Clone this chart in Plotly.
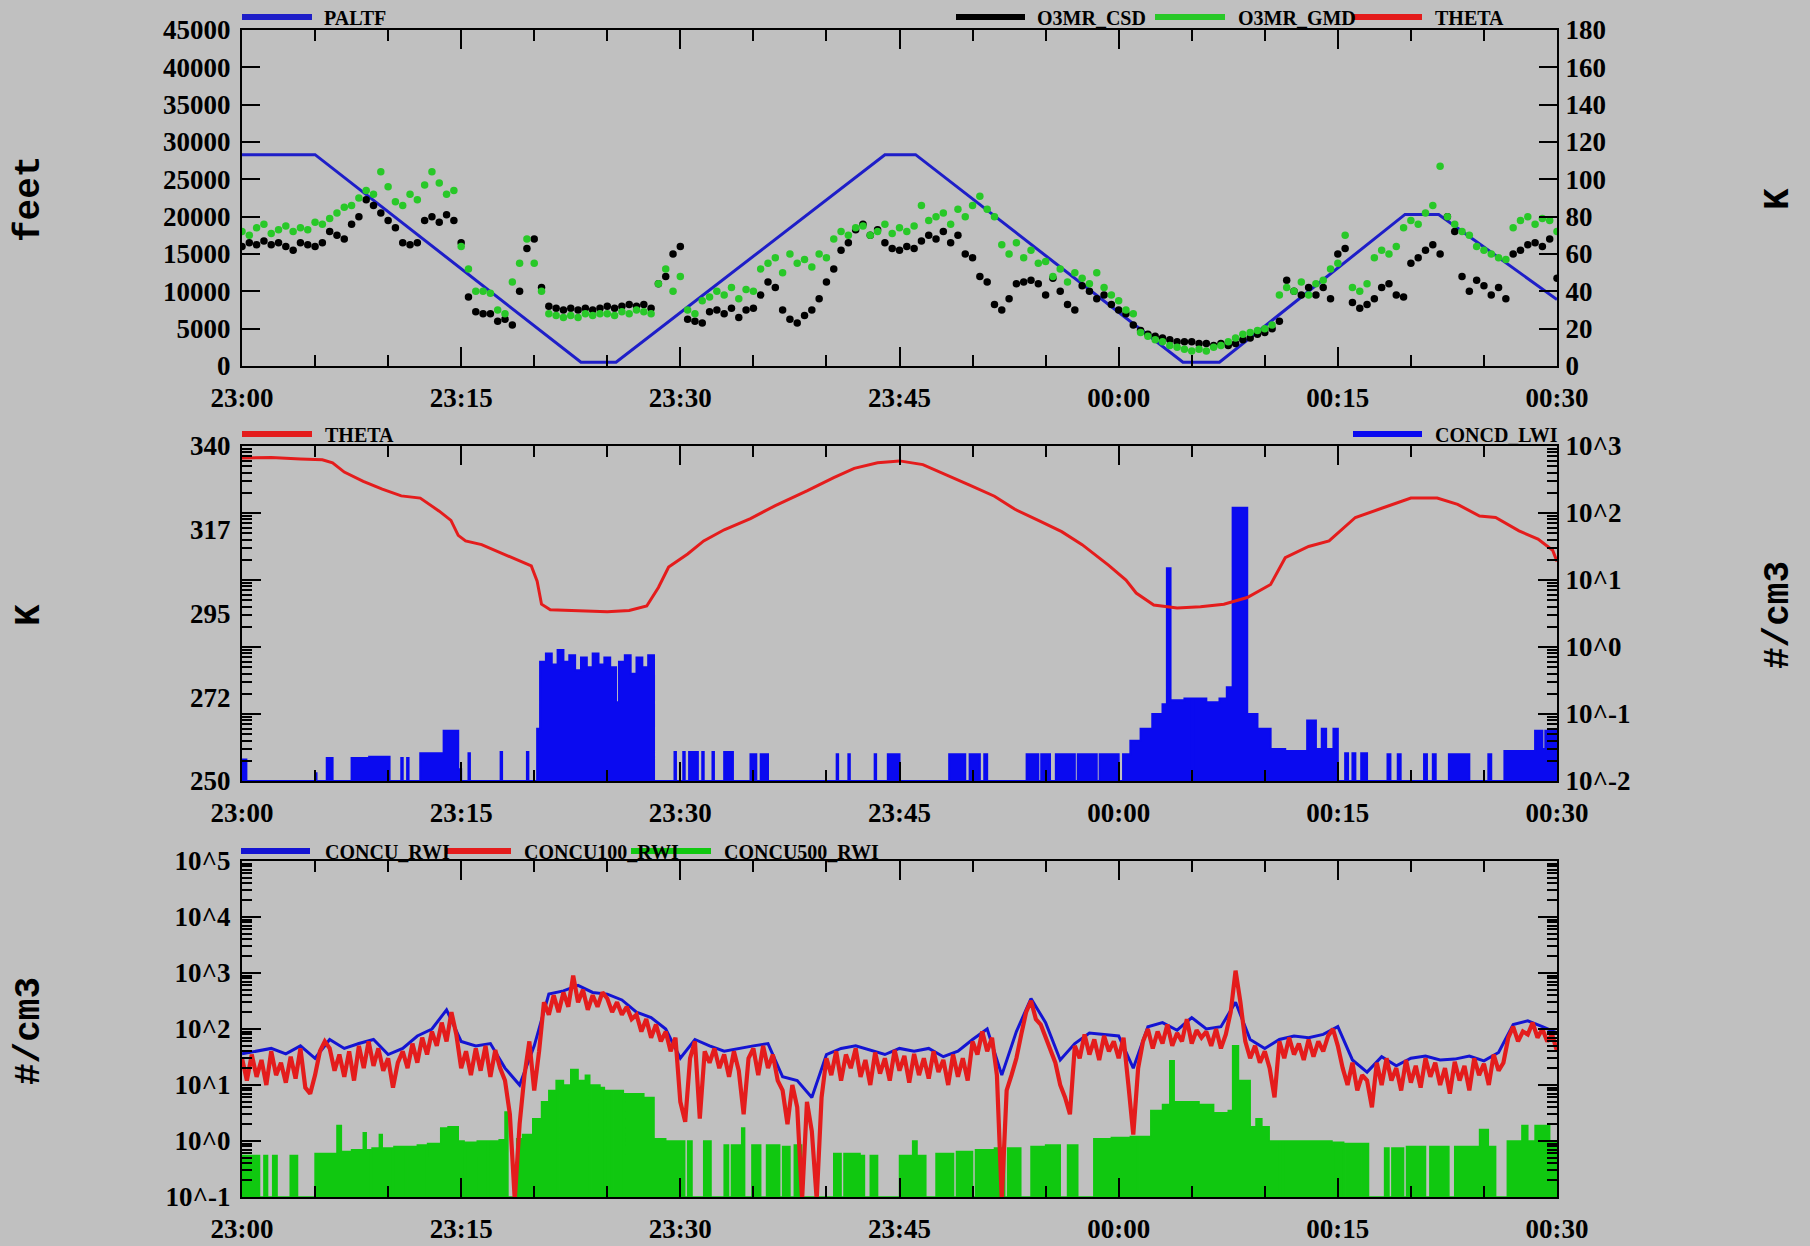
import numpy as np
import plotly.graph_objects as go

# ---------------- data (time in minutes after 23:00) ----------------
time_ticks = [0, 15, 30, 45, 60, 75, 90]
time_labels = ["23:00", "23:15", "23:30", "23:45", "00:00", "00:15", "00:30"]

# PALTF (feet)
paltf_t = [0, 5.0, 23.2, 25.6, 44.0, 46.1, 64.4, 66.9, 79.6, 81.9, 90]
paltf_ft = [28300, 28300, 500, 500, 28300, 28300, 500, 500, 20300, 20300, 8900]

# Ozone, one sample every 0.5 min
o3_step = 0.5
o3mr_csd = [
    64, 66, 65, 67, 65, 66, 64, 62, 66, 65,
    64, 66, 72, 70, 68, 76, 80, 89, 86, 82,
    78, 74, 66, 65, 66, 78, 80, 77, 81, 78,
    66, 37, 29, 28, 28, 24, 25, 22, 40, 63,
    68, 42, 32, 31, 30, 31, 30, 31, 30, 31,
    32, 31, 32, 33, 32, 33, 31, 44, 48, 60,
    64, 25, 24, 23, 29, 30, 28, 31, 26, 30,
    31, 38, 45, 42, 30, 25, 23, 27, 30, 36,
    45, 52, 62, 66, 73, 76, 70, 73, 66, 63,
    62, 64, 63, 67, 70, 68, 72, 66, 70, 60,
    58, 48, 45, 33, 30, 36, 44, 45, 46, 44,
    38, 47, 40, 33, 30, 43, 40, 36, 38, 33,
    30, 28, 22, 19, 17, 16, 15, 14, 13, 13,
    13, 12, 12, 11, 12, 11, 12, 14, 15, 17,
    18, 20, 24, 46, 40, 38, 42, 38, 42, 36,
    60, 63, 34, 31, 33, 36, 42, 44, 38, 37,
    55, 58, 62, 65, 60, 80, 72, 48, 40, 46,
    43, 38, 42, 36, 60, 62, 65, 66, 64, 68,
    47]
o3mr_gmd = [
    72, 70, 74, 76, 71, 73, 75, 72, 74, 73,
    77, 76, 79, 82, 85, 86, 90, 94, 92, 104,
    96, 88, 86, 92, 89, 97, 104, 98, 92, 94,
    64, 52, 40, 40, 39, 30, 28, 45, 55, 68,
    55, 40, 28, 27, 26, 27, 26, 28, 27, 28,
    28, 27, 29, 28, 30, 29, 28, 44, 52, 40,
    48, 30, 28, 35, 37, 40, 38, 42, 36, 41,
    40, 52, 55, 58, 50, 60, 55, 57, 53, 60,
    58, 68, 72, 70, 74, 75, 70, 72, 76, 71,
    74, 72, 75, 86, 78, 80, 82, 76, 84, 80,
    86, 91, 84, 80, 65, 60, 66, 58, 62, 55,
    56, 48, 52, 45, 50, 47, 44, 50, 42, 38,
    35, 30, 28, 18, 16, 14, 13, 11, 10, 9,
    8, 9, 8, 10, 11, 13, 15, 17, 18, 19,
    20, 22, 38, 42, 40, 45, 38, 44, 46, 52,
    55, 70, 42, 40, 44, 58, 62, 60, 64, 74,
    78, 76, 82, 86, 107, 80, 76, 72, 70, 64,
    62, 60, 58, 57, 74, 78, 80, 76, 79, 78,
    72]

# THETA (K)
theta_t = [0, 2, 4, 5.5, 6.2, 7, 8.3, 9.6, 10.9, 12.2, 13.5, 14.3, 14.8, 15.3, 16.4,
           17.4, 18.7, 19.8, 20.2, 20.5, 21.1, 23, 25, 26.5, 27.7, 28.5, 29.2, 30.5,
           31.6, 33, 34.8, 36.5, 38.7, 40.5, 41.9, 43.5, 45, 46.6, 48, 49.8, 51.5,
           52.9, 54.5, 56.1, 57.5, 59.3, 60.5, 61.2, 62.4, 64, 65.6, 67.2, 68.8, 70.4,
           71.4, 73.0, 74.4, 76.2, 78.1, 80.0, 81.8, 83.2, 84.7, 85.8, 87.4, 88.7, 89.7, 90]
theta_k = [336.8, 336.9, 336.5, 336.3, 335.5, 333, 330.5, 328.4, 326.6, 326, 322.5, 320,
           316, 314.5, 313.5, 311.8, 309.5, 307.8, 303.7, 297.5, 296, 295.7, 295.5,
           295.8, 297, 302, 307.5, 311, 314.5, 317.5, 320.5, 324, 328, 331.5, 334,
           335.5, 336, 335, 332.5, 329.5, 326.5, 323, 320, 317, 313.5, 308, 304, 300.5,
           297.3, 296.5, 296.8, 297.5, 299.3, 302.8, 310, 313, 314.5, 320.8, 323.4, 326,
           326, 324.3, 321.2, 320.8, 317.2, 315, 312, 309]

# CONCD_LWI (#/cm3), step values starting at each time
lwi_t = [0, 0.3, 5.0, 5.1, 5.8, 6.2, 7.5, 8.7, 10.1, 10.9, 11.0, 11.3, 11.4, 12.2, 13.8,
         14.8, 15.0, 15.5, 15.6, 17.7, 17.8, 19.5, 19.6, 20.2, 20.4, 20.8, 21.2, 21.6,
         22.0, 22.4, 22.8, 23.2, 23.6, 24.0, 24.4, 24.8, 25.2, 25.6, 25.8, 26.2, 26.6,
         27.0, 27.4, 27.8, 28.2, 29.6, 29.7, 30.2, 30.3, 30.6, 31.2, 31.5, 31.6, 32.2,
         32.3, 33.0, 33.6, 34.8, 35.2, 35.5, 36.0, 40.7, 40.8, 41.5, 41.6, 43.3, 43.4,
         44.2, 45.0, 48.4, 49.5, 49.8, 50.5, 50.8, 51.0, 53.7, 54.5, 54.7, 55.3, 55.7,
         57.0, 57.2, 58.5, 58.7, 60.0, 60.3, 60.8, 61.5, 62.3, 63.0, 63.3, 63.55, 64.5,
         65.0, 65.1, 66.0, 66.9, 67.4, 67.8, 68.8, 69.5, 70.4, 71.4, 72.9, 73.5, 73.9,
         74.2, 74.7, 75.0, 75.5, 75.7, 76.0, 76.2, 76.6, 77.0, 78.4, 78.6, 79.1, 79.3,
         80.9, 81.1, 81.5, 81.7, 82.6, 84.0, 85.3, 85.5, 86.4, 88.5, 89.0, 89.2, 90]
lwi_v = [0.021, 0.01, 0.013, 0.01, 0.022, 0.01, 0.022, 0.023, 0.01, 0.022, 0.01, 0.022,
         0.01, 0.026, 0.056, 0.015, 0.01, 0.026, 0.01, 0.027, 0.01, 0.027, 0.01, 0.06,
         0.6, 0.8, 0.55, 0.9, 0.6, 0.75, 0.45, 0.7, 0.5, 0.8, 0.55, 0.7, 0.5, 0.15, 0.6,
         0.75, 0.4, 0.7, 0.5, 0.75, 0.01, 0.027, 0.01, 0.027, 0.01, 0.027, 0.01, 0.027,
         0.01, 0.027, 0.01, 0.027, 0.01, 0.025, 0.01, 0.025, 0.01, 0.025, 0.01, 0.025,
         0.01, 0.025, 0.01, 0.025, 0.01, 0.025, 0.01, 0.025, 0.01, 0.025, 0.01, 0.025,
         0.01, 0.025, 0.01, 0.025, 0.01, 0.025, 0.01, 0.025, 0.01, 0.025, 0.04, 0.06,
         0.1, 0.14, 15, 0.16, 0.17, 0.01, 0.17, 0.15, 0.17, 0.25, 120, 0.1, 0.06, 0.03,
         0.028, 0.08, 0.03, 0.06, 0.03, 0.06, 0.01, 0.026, 0.01, 0.026, 0.01, 0.026,
         0.01, 0.025, 0.01, 0.025, 0.01, 0.025, 0.01, 0.025, 0.01, 0.025, 0.01, 0.025,
         0.01, 0.028, 0.056, 0.03, 0.056, 0.056]

# CONCU100_RWI (#/cm3), one sample every 20 s
concu100_rwi = [
    30, 12, 35, 14, 28, 10, 40, 15, 25, 11, 32, 13, 45, 9, 7,
    15, 40, 60, 45, 18, 35, 14, 40, 12, 50, 20, 60, 22, 45, 18,
    30, 9, 25, 40, 20, 55, 25, 70, 35, 90, 50, 130, 60, 200, 80,
    20, 40, 15, 45, 18, 50, 14, 42, 20, 12, 3, 0.09, 2, 15, 60,
    8, 40, 300, 180, 400, 200, 450, 250, 900, 300, 500, 220, 400, 250, 450,
    350, 200, 300, 180, 250, 150, 180, 90, 150, 70, 120, 60, 90, 40, 70,
    5, 2.2, 30, 60, 2.5, 40, 25, 45, 20, 35, 14, 40, 18, 3, 30,
    45, 15, 50, 20, 35, 12, 8, 2, 10, 4, 0.09, 5, 1.5, 0.09, 6,
    30, 15, 40, 12, 35, 20, 45, 14, 28, 10, 38, 16, 30, 12, 42,
    18, 33, 11, 36, 15, 30, 13, 40, 17, 28, 10, 35, 14, 30, 12,
    60, 35, 90, 40, 70, 15, 0.09, 8, 15, 30, 80, 200, 320, 150, 120,
    70, 45, 25, 10, 6, 3, 50, 30, 80, 35, 65, 28, 75, 40, 60,
    30, 70, 10, 1.3, 20, 60, 100, 45, 90, 55, 120, 50, 85, 60, 150,
    55, 95, 70, 90, 50, 100, 45, 80, 200, 1100, 300, 60, 30, 50, 25,
    40, 20, 6, 60, 30, 70, 35, 55, 28, 65, 32, 60, 40, 75, 100,
    50, 20, 10, 25, 8, 15, 12, 4, 25, 10, 30, 12, 20, 8, 28,
    11, 22, 9, 30, 14, 25, 10, 20, 7, 26, 12, 22, 8, 30, 15,
    24, 10, 35, 18, 25, 70, 110, 60, 90, 80, 130, 70, 100, 60, 80,
    40]

# CONCU_RWI (#/cm3), one sample per minute
concu_rwi = [
    36, 40, 45, 36, 50, 30, 65, 45, 55, 65,
    35, 45, 75, 100, 220, 60, 50, 55, 20, 10,
    50, 420, 480, 600, 450, 420, 330, 200, 160, 100,
    30, 65, 50, 40, 45, 50, 55, 14, 12, 6,
    35, 45, 50, 42, 35, 45, 40, 45, 32, 40,
    65, 100, 15, 90, 350, 130, 28, 55, 85, 80,
    75, 20, 110, 130, 95, 160, 100, 110, 300, 65,
    45, 65, 75, 70, 80, 110, 28, 17, 32, 22,
    30, 33, 28, 29, 33, 27, 38, 120, 140, 110,
    85]

# CONCU500_RWI (#/cm3), step values starting at each time
c500_t = [0, 1.2, 1.5, 1.75, 2.1, 2.4, 3.3, 3.8, 5.0, 6.5, 6.8, 7.5, 8.3, 8.5, 8.8, 8.9,
          9.4, 9.6, 10.3, 10.4, 11.2, 11.3, 12.0, 12.6, 12.7, 13.6, 14.1, 14.8, 15.2,
          15.3, 16.0, 16.1, 16.8, 16.9, 17.6, 18.0, 18.2, 18.8, 19.2, 19.9, 20.5, 21.0,
          21.5, 21.6, 21.7, 22.0, 22.5, 23.0, 23.5, 23.8, 23.9, 24.5, 24.8, 24.9, 25.3,
          25.4, 26.1, 26.2, 27.5, 28.2, 29.0, 30.3, 30.5, 30.8, 31.6, 32.1, 33.0, 33.3,
          33.5, 34.2, 34.4, 34.9, 35.5, 35.9, 36.8, 37.0, 37.5, 37.8, 38.3, 40.5, 41.0,
          41.2, 42.3, 42.6, 43.0, 43.5, 45.0, 45.9, 46.2, 46.8, 47.5, 48.7, 48.9, 50.0,
          50.2, 51.5, 52.2, 52.4, 53.3, 54.0, 55.0, 56.0, 56.5, 57.2, 58.3, 59.5, 60.8,
          61.3, 61.4, 62.2, 63.0, 63.5, 63.8, 64.5, 65.5, 66.5, 67.5, 67.8, 68.2, 69.0,
          69.4, 69.8, 70.3, 71.0, 71.1, 71.4, 71.5, 74.6, 74.7, 75.4, 75.5, 76.5, 76.6,
          77.1, 78.2, 78.5, 78.7, 79.5, 79.7, 81.0, 81.3, 82.6, 83.0, 84.7, 85.3, 85.8,
          86.6, 87.6, 88.0, 88.5, 89.3, 89.5, 90]
c500_v = [0.55, 0.1, 0.55, 0.1, 0.55, 0.1, 0.55, 0.1, 0.6, 1.9, 0.65, 0.7, 1.4, 0.7, 0.1,
          0.75, 1.3, 0.75, 0.1, 0.8, 0.1, 0.8, 0.85, 0.1, 0.9, 1.7, 1.8, 1.0, 0.1, 0.95,
          0.1, 1.0, 0.1, 1.0, 1.05, 3.3, 0.1, 1.1, 1.3, 2.5, 5, 8, 12, 0.1, 12, 10, 19,
          12, 15, 0.1, 10, 9, 0.1, 8, 0.1, 8, 0.1, 7, 6, 1.1, 1.0, 0.1, 1.0, 0.1, 1.0,
          0.1, 0.85, 0.1, 0.85, 1.7, 0.1, 0.85, 0.1, 0.85, 0.1, 0.8, 0.1, 0.85, 0.1, 0.6,
          0.1, 0.6, 0.55, 0.1, 0.55, 0.1, 0.55, 1.0, 0.55, 0.1, 0.6, 0.1, 0.65, 0.1, 0.7,
          0.75, 0.1, 0.75, 0.1, 0.8, 0.85, 0.1, 0.85, 0.1, 1.1, 1.15, 1.2, 0.1, 1.2, 3.5,
          4.5, 27, 5, 5, 4.5, 3.2, 3.5, 50, 12, 1.8, 2.5, 1.8, 1.0, 0.1, 1.0, 0.1, 1.0,
          0.1, 0.95, 0.1, 0.9, 0.1, 0.9, 0.1, 0.75, 0.1, 0.75, 0.1, 0.8, 0.1, 0.8, 0.1,
          0.8, 1.6, 0.8, 0.1, 1.0, 1.9, 1.0, 1.9, 1.9, 1.0, 1.0]

lwi_ticks = [0.01, 0.1, 1, 10, 100, 1000]
lwi_labels = ["10^-2", "10^-1", "10^0", "10^1", "10^2", "10^3"]
rwi_ticks = [0.1, 1, 10, 100, 1000, 10000, 100000]
rwi_labels = ["10^-1", "10^0", "10^1", "10^2", "10^3", "10^4", "10^5"]
theta_ticks = [250, 272.5, 295, 317.5, 340]
theta_labels = ["250", "272", "295", "317", "340"]

# ---------------- layout helpers ----------------
W, H = 1810, 1246
ML, MR, MT, MB = 242, 253, 30, 49
PW = W - ML - MR
PH = H - MT - MB


def pxx(px):
    return (px - ML) / PW


def pxy(py):
    return (H - MB - py) / PH


BG = "#C0C0C0"
BLUE_DK = "#1E1EC8"
BLUE = "#0A0AF0"
RED = "#E41C1C"
GREEN = "#28C828"
GREEN_F = "#10C810"
TICKFONT = dict(family="Liberation Serif", size=27, color="black", weight="bold")
LEGFONT = dict(family="Liberation Serif", size=20, color="black", weight="bold")
TITLEFONT = dict(family="Liberation Mono", size=36, color="black", weight="bold")

o3_t = np.arange(len(o3mr_csd)) * o3_step
c100_t = np.linspace(0, 90, len(concu100_rwi))
crwi_t = np.linspace(0, 90, len(concu_rwi))

fig = go.Figure()

# ---- top panel ----
fig.add_trace(go.Scatter(x=paltf_t, y=paltf_ft, name="PALTF", mode="lines",
                         line=dict(color=BLUE_DK, width=3), xaxis="x", yaxis="y"))
fig.add_trace(go.Scatter(x=o3_t, y=o3mr_csd, name="O3MR_CSD", mode="markers",
                         marker=dict(color="black", size=7.5), xaxis="x", yaxis="y2"))
fig.add_trace(go.Scatter(x=o3_t, y=o3mr_gmd, name="O3MR_GMD", mode="markers",
                         marker=dict(color=GREEN, size=7.5), xaxis="x", yaxis="y2"))
fig.add_trace(go.Scatter(x=theta_t, y=theta_k, name="THETA", mode="lines",
                         line=dict(color=RED, width=3), xaxis="x", yaxis="y2"))

# ---- middle panel ----
fig.add_trace(go.Scatter(x=lwi_t, y=lwi_v, name="CONCD_LWI", mode="lines",
                         line=dict(color=BLUE, width=2, shape="hv"), fill="tozeroy",
                         fillcolor=BLUE, xaxis="x2", yaxis="y3"))
fig.add_trace(go.Scatter(x=theta_t, y=theta_k, name="THETA", mode="lines",
                         line=dict(color=RED, width=3), xaxis="x2", yaxis="y4"))

# ---- bottom panel ----
fig.add_trace(go.Scatter(x=c500_t, y=c500_v, name="CONCU500_RWI", mode="lines",
                         line=dict(color=GREEN_F, width=1.5, shape="hv"), fill="tozeroy",
                         fillcolor=GREEN_F, xaxis="x3", yaxis="y5"))
fig.add_trace(go.Scatter(x=crwi_t, y=concu_rwi, name="CONCU_RWI", mode="lines",
                         line=dict(color="#1414D2", width=3), xaxis="x3", yaxis="y5"))
fig.add_trace(go.Scatter(x=c100_t, y=concu100_rwi, name="CONCU100_RWI", mode="lines",
                         line=dict(color=RED, width=4.2), xaxis="x3", yaxis="y5"))

common = dict(showline=True, linecolor="black", linewidth=2, ticks="inside",
              tickcolor="black", tickwidth=2, showgrid=False, zeroline=False,
              tickfont=TICKFONT, automargin=False)
minor_x = dict(tickmode="linear", tick0=0, dtick=5, ticks="inside", ticklen=11,
               tickwidth=2, tickcolor="black", showgrid=False)
minor_log = dict(dtick="D1", ticks="inside", ticklen=10, tickwidth=2,
                 tickcolor="black", showgrid=False)

d_top = [pxy(366), pxy(30)]
d_mid = [pxy(781), pxy(446)]
d_bot = [pxy(1197), pxy(861)]

xcommon = dict(common, range=[0, 90], tickmode="array", tickvals=time_ticks,
               ticktext=time_labels, ticklen=19, mirror="ticks", minor=minor_x,
               ticklabelstandoff=7)

fig.update_layout(
    width=W, height=H, autosize=False,
    margin=dict(l=ML, r=MR, t=MT, b=MB, pad=0, autoexpand=False),
    paper_bgcolor=BG, plot_bgcolor=BG, showlegend=False,
    xaxis=dict(xcommon, anchor="y", domain=[0, 1]),
    xaxis2=dict(xcommon, anchor="y3", domain=[0, 1]),
    xaxis3=dict(xcommon, anchor="y5", domain=[0, 1]),
    yaxis=dict(common, domain=d_top, range=[0, 45000], tickmode="linear", tick0=0,
               dtick=5000, tickformat="d", ticklen=18, anchor="x", ticklabelstandoff=4),
    yaxis2=dict(common, overlaying="y", side="right", range=[0, 180], tickmode="linear",
                tick0=0, dtick=20, ticklen=18, anchor="x", ticklabelstandoff=1),
    yaxis3=dict(common, domain=d_mid, type="log", range=[-2, 3], side="right",
                anchor="x2", tickmode="array", tickvals=lwi_ticks, ticktext=lwi_labels,
                ticklen=19, mirror="ticks", minor=minor_log, ticklabelstandoff=1),
    yaxis4=dict(common, overlaying="y3", side="left", range=[250, 340], anchor="x2",
                tickmode="array", tickvals=theta_ticks, ticktext=theta_labels,
                ticks="", ticklabelstandoff=4),
    yaxis5=dict(common, domain=d_bot, type="log", range=[-1, 5], side="left",
                anchor="x3", tickmode="array", tickvals=rwi_ticks, ticktext=rwi_labels,
                ticklen=19, mirror="ticks", minor=minor_log, ticklabelstandoff=4),
)

# ---- legends (line sample + label) ----
legend_items = [
    (242, 312, 17, 322, BLUE_DK, "PALTF"),
    (956, 1025, 17, 1035, "black", "O3MR_CSD"),
    (1155, 1225, 17, 1236, GREEN, "O3MR_GMD"),
    (1353, 1422, 17, 1433, RED, "THETA"),
    (242, 312, 434, 323, RED, "THETA"),
    (1353, 1422, 434, 1433, BLUE, "CONCD_LWI"),
    (241, 310, 851, 323, "#1414D2", "CONCU_RWI"),
    (446, 511, 851, 522, RED, "CONCU100_RWI"),
    (631, 711, 851, 722, GREEN_F, "CONCU500_RWI"),
]
for x0, x1, yy, xt, col, txt in legend_items:
    fig.add_shape(type="line", xref="paper", yref="paper", x0=pxx(x0), x1=pxx(x1),
                  y0=pxy(yy), y1=pxy(yy), line=dict(color=col, width=6))
    fig.add_annotation(xref="paper", yref="paper", x=pxx(xt), y=pxy(yy + 1), text=txt,
                       showarrow=False, xanchor="left", yanchor="middle", font=LEGFONT)

# ---- axis titles ----
titles = [
    (29, 199, "feet"),
    (1778, 199, "K"),
    (29, 615, "K"),
    (1778, 615, "#/cm3"),
    (29, 1031, "#/cm3"),
]
for xx, yy, txt in titles:
    fig.add_annotation(xref="paper", yref="paper", x=pxx(xx), y=pxy(yy), text=txt,
                       showarrow=False, textangle=-90, xanchor="center",
                       yanchor="middle", font=TITLEFONT)

fig.write_html("out.html",
               config={"displayModeBar": False},
               post_script="document.body.style.margin='0';"
                           "document.body.style.overflow='hidden';")
